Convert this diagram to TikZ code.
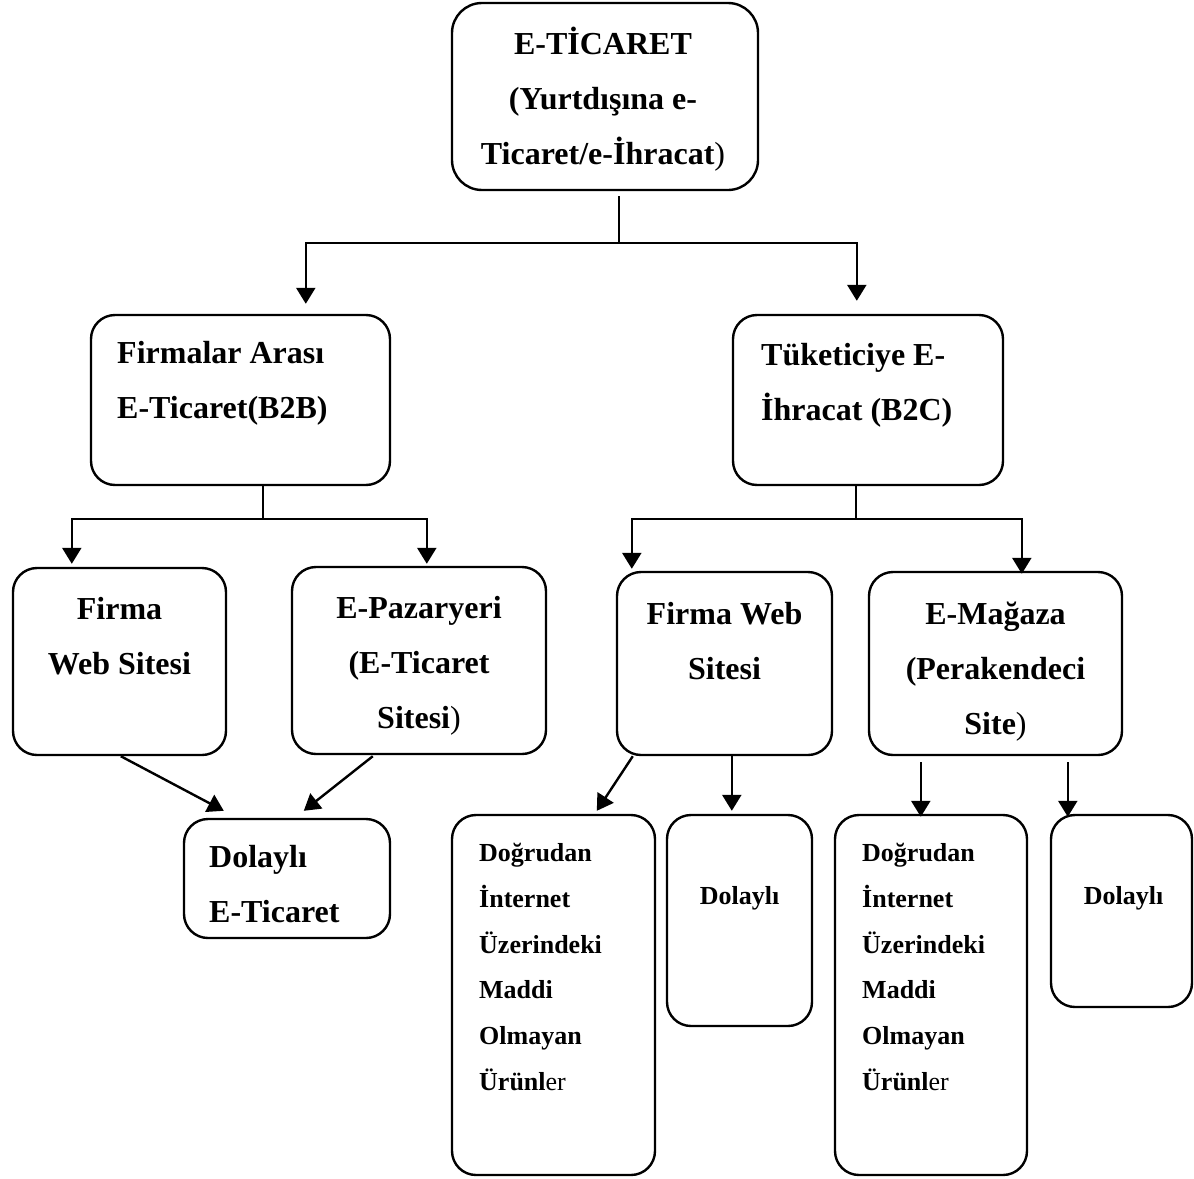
\documentclass[tikz,border=0pt]{standalone}
\usepackage{fontspec}
\setmainfont{Liberation Serif}
\usetikzlibrary{arrows.meta,calc,fit}

\tikzset{
  kutu/.style={draw, line width=1.2pt, rounded corners=12pt, inner sep=0pt},
  buyuk/.style={font=\fontsize{16}{27.5}\selectfont\bfseries, inner sep=0pt, execute at begin node=\strut},
  kucuk/.style={font=\fontsize{13}{22.9}\selectfont\bfseries, inner sep=0pt, execute at begin node=\strut},
  cizgi/.style={line width=1.2pt},
  ok/.style={cizgi, -{Triangle[length=8pt,width=9.5pt]}}
}

\begin{document}
\begin{tikzpicture}[x=0.5pt,y=-0.5pt]
        \useasboundingbox (0,0) rectangle (1194,1178);

        % Kutular
        \node[kutu, rounded corners=15pt, fit={(452,3) (758,190)}] (tepe) {};
        \node[kutu, fit={(91,315) (390,485)}] (b2b) {};
        \node[kutu, fit={(733,315) (1003,485)}] (b2c) {};
        \node[kutu, fit={(13,568) (226,755)}] (firma1) {};
        \node[kutu, fit={(292,567) (546,754)}] (pazar) {};
        \node[kutu, fit={(184,819) (390,938)}] (dolayli1) {};
        \node[kutu, fit={(617,572) (832,755)}] (firma2) {};
        \node[kutu, fit={(869,572) (1122,755)}] (magaza) {};
        \node[kutu, fit={(452,815) (655,1175)}] (dogrudan1) {};
        \node[kutu, fit={(667,815) (812,1026)}] (dolayli2) {};
        \node[kutu, fit={(835,815) (1027,1175)}] (dogrudan2) {};
        \node[kutu, fit={(1051,815) (1192,1007)}] (dolayli3) {};

        % Yazilar
        \node[buyuk, align=center, anchor=north] (tepe-y) at ($(tepe.north)+(-2,25)$)
            {E-TİCARET\\(Yurtdışına e-\\Ticaret/e-İhracat\textmd{)}};
        \node[buyuk, align=left, anchor=north west] (b2b-y) at ($(b2b.north west)+(27,27)$)
            {Firmalar Arası\\E-Ticaret(B2B)};
        \node[buyuk, align=left, anchor=north west] (b2c-y) at ($(b2c.north west)+(29,29)$)
            {Tüketiciye E-\\İhracat (B2C)};
        \node[buyuk, align=center, anchor=north] (firma1-y) at ($(firma1.north)+(0,30)$)
            {Firma\\Web Sitesi};
        \node[buyuk, align=center, anchor=north] (pazar-y) at ($(pazar.north)+(0,30)$)
            {E-Pazaryeri\\(E-Ticaret\\Sitesi\textmd{)}};
        \node[buyuk, align=left, anchor=north west] (dolayli1-y) at ($(dolayli1.north west)+(26,27)$)
            {Dolaylı\\E-Ticaret};
        \node[buyuk, align=center, anchor=north] (firma2-y) at ($(firma2.north)+(0,31)$)
            {Firma Web\\Sitesi};
        \node[buyuk, align=center, anchor=north] (magaza-y) at ($(magaza.north)+(0,31)$)
            {E-Mağaza\\(Perakendeci\\Site\textmd{)}};
        \node[kucuk, align=left, anchor=north west] (dogrudan1-y) at ($(dogrudan1.north west)+(28,29)$)
            {Doğrudan\\İnternet\\Üzerindeki\\Maddi\\Olmayan\\Ürünl\textmd{er}};
        \node[kucuk, anchor=north] (dolayli2-y) at ($(dolayli2.north)+(0,58)$) {Dolaylı};
        \node[kucuk, align=left, anchor=north west] (dogrudan2-y) at ($(dogrudan2.north west)+(28,29)$)
            {Doğrudan\\İnternet\\Üzerindeki\\Maddi\\Olmayan\\Ürünl\textmd{er}};
        \node[kucuk, anchor=north] (dolayli3-y) at ($(dolayli3.north)+(2,58)$) {Dolaylı};

        % Baglantilar
        \draw[cizgi] ($(tepe.south west)+(168,5)$) -- ++(0,47) coordinate (dal1);
        \draw[ok] (dal1) -| ($(b2b.north west)+(216,-10)$);
        \draw[ok] (dal1) -| ($(b2c.north west)+(125,-13)$);

        \draw[cizgi] ($(b2b.south west)+(173,0)$) -- ++(0,33) coordinate (dal2);
        \draw[ok] (dal2) -| ($(firma1.north west)+(60,-3)$);
        \draw[ok] (dal2) -| ($(pazar.north west)+(136,-2)$);

        \draw[cizgi] ($(b2c.south west)+(124,0)$) -- ++(0,33) coordinate (dal3);
        \draw[ok] (dal3) -| ($(firma2.north west)+(16,-2)$);
        \draw[ok] (dal3) -| ($(magaza.north west)+(154,3)$);

        \draw[ok] ($(firma1.south west)+(109,0)$) -- ($(dolayli1.north west)+(41,-7)$);
        \draw[ok] ($(pazar.south west)+(82,1)$) -- ($(dolayli1.north west)+(121,-7)$);
        \draw[ok] ($(firma2.south west)+(17,0)$) -- ($(dogrudan1.north west)+(146,-3)$);
        \draw[ok] ($(firma2.south west)+(116,0)$) -- ($(dolayli2.north west)+(66,-3)$);
        \draw[ok] ($(magaza.south west)+(53,6)$) -- ($(dogrudan2.north west)+(87,3)$);
        \draw[ok] ($(magaza.south west)+(200,6)$) -- ($(dolayli3.north west)+(18,3)$);
    \end{tikzpicture}
\end{document}
